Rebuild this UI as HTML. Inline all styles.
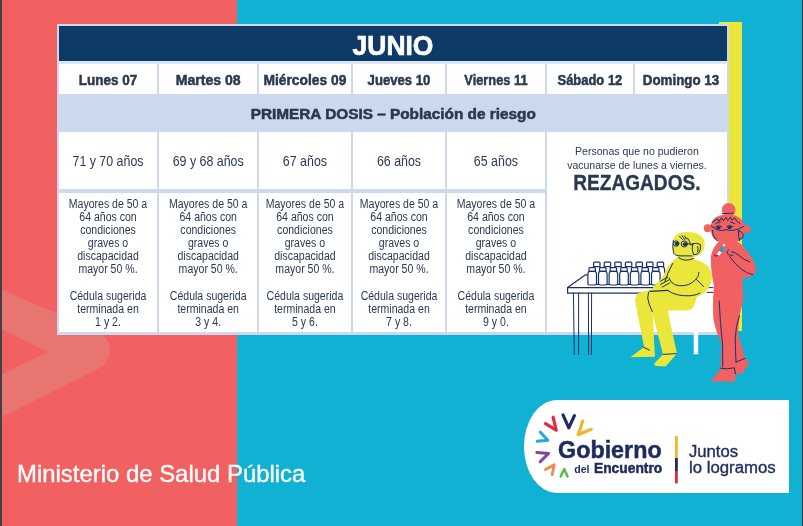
<!DOCTYPE html>
<html lang="es">
<head>
<meta charset="utf-8">
<title>Plan de vacunación – Junio</title>
<style>
*{box-sizing:border-box;margin:0;padding:0}
html,body{width:803px;height:526px;overflow:hidden}
body{position:relative;background:#10b1d2;font-family:"Liberation Sans", Arial, Helvetica, sans-serif;color:#2a3950}
.abs{position:absolute}
.strip{left:0;top:0;width:2px;height:526px;background:#3f4245}
.stripr{left:802px;top:0;width:1px;height:526px;background:#42373c}
.coral{left:2px;top:0;width:234.5px;height:526px;background:#f26161;overflow:hidden}
.yellow{left:719px;top:22.4px;width:22.5px;height:309px;background:#eae63a}
.table{left:57.2px;top:24.2px;width:671.6px;height:310.4px;background:#ced8ee}
.gap{left:58.5px;top:61px;width:669px;height:4px;background:#dbe5f4}
.cell{position:absolute;background:#fff}
.title{position:absolute;background:#0d3b66;color:#fff}
.band{position:absolute;background:#cbd9ec}
.t{position:absolute;white-space:nowrap;line-height:1;display:block;font-weight:normal;font-style:normal}
.c{left:0;width:100%;text-align:center}
.l{text-align:left;transform-origin:0 0}
.b{font-weight:bold}
.h{-webkit-text-stroke:0.5px currentColor}
.hh{-webkit-text-stroke:0.7px currentColor}
.m{-webkit-text-stroke:0.35px currentColor}
.ministry{color:#fff}
.logo{left:523.7px;top:400.4px;width:265.8px;height:92.4px;background:#fff;border-radius:33px 0 0 33px / 46px 0 0 46px}
.brand{color:#1f2b5e}
svg{position:absolute;left:0;top:0;overflow:visible}
</style>
</head>
<body>
<div class="abs strip"></div>
<div class="abs stripr"></div>
<div class="abs coral">
<svg width="235" height="526" viewBox="2 0 235 526"><path d="M-20 280.6 L96 330 Q112 340 110 352 Q110 362 98 369 L-20 428 L-20 385 L47 352 L-20 318 Z" fill="#e57a74" opacity="0.8"/></svg>
</div>
<div class="abs yellow"></div>
<main>
<section class="calendar">
<div class="abs table"></div>
<div class="abs gap"></div>
<header class="title" style="left:59px;top:25.6px;width:668px;height:35.8px"><h1 class="t c b hh" style="left:-0.5px;top:6.4px;font-size:27.4px;transform:scaleX(0.965)">JUNIO</h1></header>
<div class="row head">
<div class="cell" style="left:59px;top:64.3px;width:98px;height:29.9px"><strong class="t c b h" style="top:8.7px;font-size:14.4px;transform:scaleX(0.94)">Lunes 07</strong></div>
<div class="cell" style="left:159px;top:64.3px;width:98.4px;height:29.9px"><strong class="t c b h" style="top:8.7px;font-size:14.4px;transform:scaleX(0.98)">Martes 08</strong></div>
<div class="cell" style="left:259.4px;top:64.3px;width:91.9px;height:29.9px"><strong class="t c b h" style="top:8.7px;font-size:14.4px;transform:scaleX(0.96)">Miércoles 09</strong></div>
<div class="cell" style="left:353.3px;top:64.3px;width:92px;height:29.9px"><strong class="t c b h" style="top:8.7px;font-size:14.4px;transform:scaleX(0.913)">Jueves 10</strong></div>
<div class="cell" style="left:447.3px;top:64.3px;width:97.9px;height:29.9px"><strong class="t c b h" style="top:8.7px;font-size:14.4px;transform:scaleX(0.892)">Viernes 11</strong></div>
<div class="cell" style="left:547.2px;top:64.3px;width:85.8px;height:29.9px"><strong class="t c b h" style="top:8.7px;font-size:14.4px;transform:scaleX(0.9)">Sábado 12</strong></div>
<div class="cell" style="left:635px;top:64.3px;width:92px;height:29.9px"><strong class="t c b h" style="top:8.7px;font-size:14.4px;transform:scaleX(0.928)">Domingo 13</strong></div>
</div>
<div class="band" style="left:58.5px;top:95.5px;width:668.5px;height:34.6px"><h2 class="t c b h" style="left:0.15px;top:12.5px;font-size:13.9px;transform:scaleX(1.105)">PRIMERA DOSIS – Población de riesgo</h2></div>
<div class="row ages">
<div class="cell" style="left:59px;top:131.8px;width:98px;height:57.7px"><p class="t c " style="top:22.2px;font-size:14.1px;transform:scaleX(0.88)">71 y 70 años</p></div>
<div class="cell" style="left:159px;top:131.8px;width:98.4px;height:57.7px"><p class="t c " style="top:22.2px;font-size:14.1px;transform:scaleX(0.88)">69 y 68 años</p></div>
<div class="cell" style="left:259.4px;top:131.8px;width:91.9px;height:57.7px"><p class="t c " style="top:22.2px;font-size:14.1px;transform:scaleX(0.88)">67 años</p></div>
<div class="cell" style="left:353.3px;top:131.8px;width:92px;height:57.7px"><p class="t c " style="top:22.2px;font-size:14.1px;transform:scaleX(0.88)">66 años</p></div>
<div class="cell" style="left:447.3px;top:131.8px;width:97.9px;height:57.7px"><p class="t c " style="top:22.2px;font-size:14.1px;transform:scaleX(0.88)">65 años</p></div>
</div>
<div class="row detail">
<div class="cell" style="left:59px;top:192.5px;width:98px;height:139.7px"><span class="t c " style="top:5.5px;font-size:12px;transform:scaleX(0.878)">Mayores de 50 a</span><span class="t c " style="top:18.5px;font-size:12px;transform:scaleX(0.878)">64 años con</span><span class="t c " style="top:31.5px;font-size:12px;transform:scaleX(0.878)">condiciones</span><span class="t c " style="top:44.5px;font-size:12px;transform:scaleX(0.878)">graves o</span><span class="t c " style="top:57.5px;font-size:12px;transform:scaleX(0.878)">discapacidad</span><span class="t c " style="top:70.5px;font-size:12px;transform:scaleX(0.878)">mayor 50 %.</span><span class="t c " style="top:97.5px;font-size:12px;transform:scaleX(0.878)">Cédula sugerida</span><span class="t c " style="top:110.5px;font-size:12px;transform:scaleX(0.878)">terminada en</span><span class="t c " style="top:123.5px;font-size:12px;transform:scaleX(0.878)">1 y 2.</span></div>
<div class="cell" style="left:159px;top:192.5px;width:98.4px;height:139.7px"><span class="t c " style="top:5.5px;font-size:12px;transform:scaleX(0.878)">Mayores de 50 a</span><span class="t c " style="top:18.5px;font-size:12px;transform:scaleX(0.878)">64 años con</span><span class="t c " style="top:31.5px;font-size:12px;transform:scaleX(0.878)">condiciones</span><span class="t c " style="top:44.5px;font-size:12px;transform:scaleX(0.878)">graves o</span><span class="t c " style="top:57.5px;font-size:12px;transform:scaleX(0.878)">discapacidad</span><span class="t c " style="top:70.5px;font-size:12px;transform:scaleX(0.878)">mayor 50 %.</span><span class="t c " style="top:97.5px;font-size:12px;transform:scaleX(0.878)">Cédula sugerida</span><span class="t c " style="top:110.5px;font-size:12px;transform:scaleX(0.878)">terminada en</span><span class="t c " style="top:123.5px;font-size:12px;transform:scaleX(0.878)">3 y 4.</span></div>
<div class="cell" style="left:259.4px;top:192.5px;width:91.9px;height:139.7px"><span class="t c " style="top:5.5px;font-size:12px;transform:scaleX(0.878)">Mayores de 50 a</span><span class="t c " style="top:18.5px;font-size:12px;transform:scaleX(0.878)">64 años con</span><span class="t c " style="top:31.5px;font-size:12px;transform:scaleX(0.878)">condiciones</span><span class="t c " style="top:44.5px;font-size:12px;transform:scaleX(0.878)">graves o</span><span class="t c " style="top:57.5px;font-size:12px;transform:scaleX(0.878)">discapacidad</span><span class="t c " style="top:70.5px;font-size:12px;transform:scaleX(0.878)">mayor 50 %.</span><span class="t c " style="top:97.5px;font-size:12px;transform:scaleX(0.878)">Cédula sugerida</span><span class="t c " style="top:110.5px;font-size:12px;transform:scaleX(0.878)">terminada en</span><span class="t c " style="top:123.5px;font-size:12px;transform:scaleX(0.878)">5 y 6.</span></div>
<div class="cell" style="left:353.3px;top:192.5px;width:92px;height:139.7px"><span class="t c " style="top:5.5px;font-size:12px;transform:scaleX(0.878)">Mayores de 50 a</span><span class="t c " style="top:18.5px;font-size:12px;transform:scaleX(0.878)">64 años con</span><span class="t c " style="top:31.5px;font-size:12px;transform:scaleX(0.878)">condiciones</span><span class="t c " style="top:44.5px;font-size:12px;transform:scaleX(0.878)">graves o</span><span class="t c " style="top:57.5px;font-size:12px;transform:scaleX(0.878)">discapacidad</span><span class="t c " style="top:70.5px;font-size:12px;transform:scaleX(0.878)">mayor 50 %.</span><span class="t c " style="top:97.5px;font-size:12px;transform:scaleX(0.878)">Cédula sugerida</span><span class="t c " style="top:110.5px;font-size:12px;transform:scaleX(0.878)">terminada en</span><span class="t c " style="top:123.5px;font-size:12px;transform:scaleX(0.878)">7 y 8.</span></div>
<div class="cell" style="left:447.3px;top:192.5px;width:97.9px;height:139.7px"><span class="t c " style="top:5.5px;font-size:12px;transform:scaleX(0.878)">Mayores de 50 a</span><span class="t c " style="top:18.5px;font-size:12px;transform:scaleX(0.878)">64 años con</span><span class="t c " style="top:31.5px;font-size:12px;transform:scaleX(0.878)">condiciones</span><span class="t c " style="top:44.5px;font-size:12px;transform:scaleX(0.878)">graves o</span><span class="t c " style="top:57.5px;font-size:12px;transform:scaleX(0.878)">discapacidad</span><span class="t c " style="top:70.5px;font-size:12px;transform:scaleX(0.878)">mayor 50 %.</span><span class="t c " style="top:97.5px;font-size:12px;transform:scaleX(0.878)">Cédula sugerida</span><span class="t c " style="top:110.5px;font-size:12px;transform:scaleX(0.878)">terminada en</span><span class="t c " style="top:123.5px;font-size:12px;transform:scaleX(0.878)">9 y 0.</span></div>
</div>
<div class="cell" style="left:547.2px;top:131.8px;width:179.8px;height:200.4px"><span class="t c " style="left:-0.3px;top:14.2px;font-size:11.5px;transform:scaleX(0.918)">Personas que no pudieron</span><span class="t c " style="left:-0.4px;top:28.2px;font-size:11.5px;transform:scaleX(0.913)">vacunarse de lunes a viernes.</span><strong class="t c b m" style="top:40.2px;font-size:22.6px;transform:scaleX(0.845)">REZAGADOS.</strong></div>
</section>
<figure class="illustration">
<svg width="803" height="526" viewBox="0 0 803 526" fill="none" stroke-linecap="round" stroke-linejoin="round">
<rect x="693.7" y="320" width="4.5" height="34.3" fill="#fff"/>
<g stroke="#1b3068" stroke-width="1.2" fill="#fff">
<path d="M567.6 287.6 L585.5 274.8 L660 274.8 L660 293.2 L567.6 293.2 Z"/>
<path d="M567.6 287.6 L660 287.6" fill="none"/>
<path d="M573.4 293.2 L574.3 354.5 M578.6 293.2 L578.6 354.5 M588.4 293.2 L588.6 354.5 M591.6 293.2 L591.4 354.5" fill="none" stroke-width="1"/>
<path d="M706 287.6 L713 287.6 M707 292.4 L713 292.4" fill="none" stroke-width="1"/>
<path d="M593.6 266.8 v-3.8 q0 -0.9 0.9 -0.9 h4.6 q0.9 0 0.9 0.9 v3.8 M592.6 284.4 v-14.6 q0 -2.6 1.6 -3.2 h5.2 q1.6 0.6 1.6 3.2 v14.6 z"/>
<path d="M604.2 266.8 v-3.8 q0 -0.9 0.9 -0.9 h4.6 q0.9 0 0.9 0.9 v3.8 M603.2 284.4 v-14.6 q0 -2.6 1.6 -3.2 h5.2 q1.6 0.6 1.6 3.2 v14.6 z"/>
<path d="M614.8 266.8 v-3.8 q0 -0.9 0.9 -0.9 h4.6 q0.9 0 0.9 0.9 v3.8 M613.8 284.4 v-14.6 q0 -2.6 1.6 -3.2 h5.2 q1.6 0.6 1.6 3.2 v14.6 z"/>
<path d="M625.4 266.8 v-3.8 q0 -0.9 0.9 -0.9 h4.6 q0.9 0 0.9 0.9 v3.8 M624.4 284.4 v-14.6 q0 -2.6 1.6 -3.2 h5.2 q1.6 0.6 1.6 3.2 v14.6 z"/>
<path d="M636.0 266.8 v-3.8 q0 -0.9 0.9 -0.9 h4.6 q0.9 0 0.9 0.9 v3.8 M635.0 284.4 v-14.6 q0 -2.6 1.6 -3.2 h5.2 q1.6 0.6 1.6 3.2 v14.6 z"/>
<path d="M646.6 266.8 v-3.8 q0 -0.9 0.9 -0.9 h4.6 q0.9 0 0.9 0.9 v3.8 M645.6 284.4 v-14.6 q0 -2.6 1.6 -3.2 h5.2 q1.6 0.6 1.6 3.2 v14.6 z"/>
<path d="M657.2 266.8 v-3.8 q0 -0.9 0.9 -0.9 h4.6 q0.9 0 0.9 0.9 v3.8 M656.2 284.4 v-14.6 q0 -2.6 1.6 -3.2 h5.2 q1.6 0.6 1.6 3.2 v14.6 z"/>
<path d="M589.0 271.4 v-2.8 q0 -0.9 0.9 -0.9 h4.6 q0.9 0 0.9 0.9 v2.8 z"/>
<path d="M587.9 283.6 v-9.6 q0 -2.2 1.5 -2.6 h5.6 q1.5 0.4 1.5 2.6 v9.6 q0 1.4 -1.4 1.4 h-5.8 q-1.4 0 -1.4 -1.4 z"/>
<path d="M599.6 271.4 v-2.8 q0 -0.9 0.9 -0.9 h4.6 q0.9 0 0.9 0.9 v2.8 z"/>
<path d="M598.5 283.6 v-9.6 q0 -2.2 1.5 -2.6 h5.6 q1.5 0.4 1.5 2.6 v9.6 q0 1.4 -1.4 1.4 h-5.8 q-1.4 0 -1.4 -1.4 z"/>
<path d="M610.2 271.4 v-2.8 q0 -0.9 0.9 -0.9 h4.6 q0.9 0 0.9 0.9 v2.8 z"/>
<path d="M609.1 283.6 v-9.6 q0 -2.2 1.5 -2.6 h5.6 q1.5 0.4 1.5 2.6 v9.6 q0 1.4 -1.4 1.4 h-5.8 q-1.4 0 -1.4 -1.4 z"/>
<path d="M620.8 271.4 v-2.8 q0 -0.9 0.9 -0.9 h4.6 q0.9 0 0.9 0.9 v2.8 z"/>
<path d="M619.7 283.6 v-9.6 q0 -2.2 1.5 -2.6 h5.6 q1.5 0.4 1.5 2.6 v9.6 q0 1.4 -1.4 1.4 h-5.8 q-1.4 0 -1.4 -1.4 z"/>
<path d="M631.4 271.4 v-2.8 q0 -0.9 0.9 -0.9 h4.6 q0.9 0 0.9 0.9 v2.8 z"/>
<path d="M630.3 283.6 v-9.6 q0 -2.2 1.5 -2.6 h5.6 q1.5 0.4 1.5 2.6 v9.6 q0 1.4 -1.4 1.4 h-5.8 q-1.4 0 -1.4 -1.4 z"/>
<path d="M642.0 271.4 v-2.8 q0 -0.9 0.9 -0.9 h4.6 q0.9 0 0.9 0.9 v2.8 z"/>
<path d="M640.9 283.6 v-9.6 q0 -2.2 1.5 -2.6 h5.6 q1.5 0.4 1.5 2.6 v9.6 q0 1.4 -1.4 1.4 h-5.8 q-1.4 0 -1.4 -1.4 z"/>
<path d="M652.6 271.4 v-2.8 q0 -0.9 0.9 -0.9 h4.6 q0.9 0 0.9 0.9 v2.8 z"/>
<path d="M651.5 283.6 v-9.6 q0 -2.2 1.5 -2.6 h5.6 q1.5 0.4 1.5 2.6 v9.6 q0 1.4 -1.4 1.4 h-5.8 q-1.4 0 -1.4 -1.4 z"/>
</g>
<g fill="#eae63a">
<path d="M673 240 Q675 232.5 686 232 Q698 231.5 703 238 Q706.5 244 703 251 Q699 256.5 693 257.5 L693 262 L678 262 L678 256.5 Q672.5 254 672.5 247 Z"/>
<path d="M678 257 Q692 258 701 261.6 Q709.6 265.6 711.6 274 Q712.6 282 708 289 Q703 294.4 697 297 L695 302.4 Q693.5 310.4 686 310.4 L667.6 310.4 L677 353.5 L665.5 366.6 L656 366 Q652.5 365 656 361.5 L663 354.5 L652.6 313.5 L655 356.8 L630.5 357.2 L644 347 L635.3 302 Q634.5 293.5 641 292.2 L652 289 Q656 283 662 278 Q668 263 678 257 Z"/>
</g>
<g stroke="#1b3068" stroke-width="1">
<path d="M673.3 240.5 Q672.2 247 673.5 253 Q675 255.8 681 255.9 L692 255.9"/>
<path d="M678.5 257.5 Q684 262.5 693.5 258.5"/>
<circle cx="676.2" cy="243.6" r="2.7"/><circle cx="684.3" cy="244" r="3.1"/>
<ellipse cx="676.6" cy="243.8" rx="1.7" ry="2" fill="#1b3068" stroke="none"/><ellipse cx="685" cy="244.2" rx="2.2" ry="1.9" fill="#1b3068" stroke="none"/>
<path d="M687.4 243.6 L693 244.6"/>
<path d="M679.5 236.3 L682.5 239.5 M682 235.6 L685 239.8 M684.6 236 L686.5 239 M687.5 238 Q690 241 690.5 245"/>
<path d="M692.5 243.8 Q697 242.2 700.3 244.5 Q701.5 249.5 698.6 253 Q696 255.2 693.5 254.6 Q691.5 250 692.5 243.8 Z"/>
<path d="M697.6 246.5 Q699 249 697.6 251.6"/>
<path d="M672.6 263.5 Q667 274 664.8 282"/>
<path d="M669 278 Q672 287.5 685 285.5 Q693 284 698 276.5 Q698.6 274.5 698.9 272.5"/>
<path d="M696.6 279.5 L703.6 286.6"/>
<path d="M660.4 281.2 L667.6 277.2 M660.6 284.4 L668.8 280 M662.4 287 L669.6 283"/>
<path d="M650 291.4 L668 290.4" stroke-width="1.4"/>
<path d="M668 290.6 Q676 296.4 690 295.8 Q697 295.2 700 293"/>
<path d="M648.5 292.5 Q646.5 298 649.2 304 L652.2 311.6"/>
<path d="M643.6 347.2 L649.6 350.2 M663.2 354.4 L676.4 353.6"/>
</g>
<g fill="#f26161">
<circle cx="728.7" cy="209.8" r="6.9"/>
<path d="M727.5 214.4 Q737 214.4 741.6 219.6 Q744.6 223.6 744.4 229 Q744.4 236 741.6 239.4 Q739 241.8 734 241.8 L720 241.8 Q714.6 241 712.4 236.6 Q710.6 232.6 710.6 228 Q710.6 221.6 714.6 218 Q719.6 214.4 727.5 214.4 Z"/>
<circle cx="707.7" cy="228.2" r="3.9"/><circle cx="746.8" cy="229" r="3.9"/>
<path d="M720.5 240 L735 240 Q741.5 243.5 746 250 Q753.5 258 755.8 267 Q756.5 273 752 276.2 Q747.5 278.5 742.5 277.5 L743.4 300 L739.6 315 L738 334 L745 358 L749.2 363 L742.4 373.6 L735.4 373.8 L735.3 381.6 L710.6 381.6 L720.8 368.6 L721.4 343 Q715.4 331 713.3 318 Q712.5 300 714 286 Q710.5 270 710.8 257 Q712.5 246.5 720.5 240 Z"/>
</g>
<g stroke="#1b3068" stroke-width="1">
<path d="M722.2 213.6 L733.4 213.2"/>
<path d="M712.6 222.2 L717.6 218.8 L719 221.4 L721.6 217.8 L723.4 220.8 L726 217.4 L727.8 220.6 L730.4 217.2 L732.2 220.4 L734.6 217.8 L737 221.4 L740 223.6"/>
<path d="M716 223.6 L720.4 221.8 M730.4 222 L734.6 223.6"/>
<path d="M711 225.6 L714.4 228.2 Q719 231.6 726 229.8 Q733 231.4 738.6 229.2 L743.6 226.4"/>
<ellipse cx="718.4" cy="227.8" rx="2.1" ry="1.5" fill="#1b3068" stroke="none"/><ellipse cx="729.6" cy="227.6" rx="2.1" ry="1.5" fill="#1b3068" stroke="none"/>
<path d="M715.6 226.6 Q718.4 224.6 721.8 226.6 M726.8 226.4 Q729.6 224.4 733 226.6"/>
<path d="M712.4 230.4 Q712.6 237 717.6 241 M738.6 230.2 Q738.2 236.6 739.4 240.6"/>
<path d="M739 231 Q743.2 231.6 743.2 236.2 Q742 239.6 739.6 239.4"/>
<path d="M714 254.6 Q715.6 258.4 718.8 254.2"/>
<path d="M729 249.6 Q725.6 251.4 727.4 253.8 Q730 256.4 733 255.2 M731.6 251.6 Q735.6 252.4 738.4 255.2 Q744.6 260.4 750 262"/>
<path d="M729.6 256.6 Q736 265.6 743 270.4 Q747.6 273.4 752.6 274.6"/>
<path d="M719.2 301 Q720 322 722.6 345 L722.8 367 M739.4 315.6 Q735.4 326 735.2 340 Q735.6 352 736 362.4"/>
<path d="M720.8 368.4 Q727 369.6 734.4 367.8 L735.4 373.8 M736 362 L745 358.4"/>
</g>
<path d="M719 250.4 L721.6 246.2 L725 248 L722.6 252.2 Z" fill="#1aa5d8"/>
<path d="M717 254.4 L719 251 L721.6 252.4 L719.4 255.6 Z M722.6 245.4 L723.6 243.8 L725.4 244.8 L724.6 246.6 Z" fill="#fff"/>
</svg>
</figure>
</main>
<footer>
<p class="t l ministry m" style="left:16.6px;top:463px;font-size:23.4px;transform:scaleX(1.022)">Ministerio de Salud Pública</p>
<div class="brand">
<div class="abs logo"></div>
<svg width="803" height="526" viewBox="0 0 803 526" fill="none" stroke-linecap="round" stroke-linejoin="round">
<path d="M563 414.9 L568.8 427.8 L574.4 415.6" stroke="#1f2b5e" stroke-width="3.2"/>
<path d="M545.5 423.6 L556.2 430.1 L553.1 417.2" stroke="#e5273f" stroke-width="3.2"/>
<path d="M582.8 421 L578.2 434.7 L591.2 429.3" stroke="#f3b62a" stroke-width="3.2"/>
<path d="M540.2 432.1 L547.8 440.3 L537.2 441.2" stroke="#1fa9e0" stroke-width="3"/>
<path d="M536.9 452.5 L548.6 453.4 L540.2 461.8" stroke="#7e44a8" stroke-width="3"/>
<path d="M545.5 469.6 L554.2 464.8 L552.1 474.7" stroke="#f08a4b" stroke-width="2.8"/>
<path d="M560.7 476.5 L564.2 468.9 L567.6 476.5" stroke="#56b947" stroke-width="2.4"/>
<rect x="675" y="436" width="2.8" height="22" fill="#f3b62a" stroke="none"/>
<rect x="675" y="458" width="2.8" height="13" fill="#1f2b5e" stroke="none"/>
<rect x="675" y="471" width="2.8" height="12.4" fill="#e5273f" stroke="none"/>
</svg>

<span class="t l b h" style="left:557.6px;top:438px;font-size:23.8px;transform:scaleX(0.98)">Gobierno</span>
<span class="t l b" style="left:574.2px;top:464px;font-size:10.6px;transform:scaleX(1.0)">del</span>
<span class="t l b h" style="left:594px;top:461px;font-size:14.6px;transform:scaleX(0.945)">Encuentro</span>
<span class="t l m" style="left:688.8px;top:444px;font-size:16px;transform:scaleX(1.04)">Juntos</span>
<span class="t l m" style="left:688.8px;top:460px;font-size:15.8px;transform:scaleX(1.062)">lo logramos</span>
</div>
</footer>
</body>
</html>
